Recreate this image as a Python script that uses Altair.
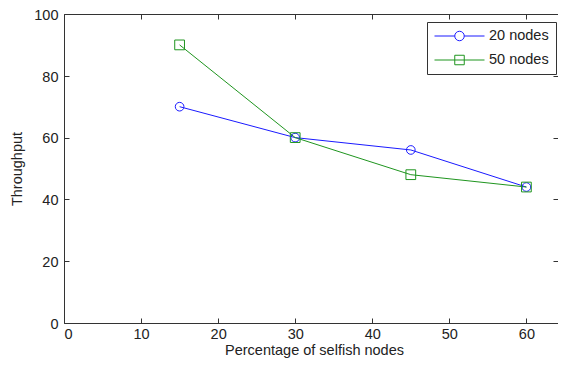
import altair as alt
import pandas as pd

x_vals = [15, 30, 45, 60]
series_names = ["20 nodes", "50 nodes"]
nodes20 = [70, 60, 56, 44]
nodes50 = [90, 60, 48, 44]
x_ticks = [0, 10, 20, 30, 40, 50, 60]
y_ticks = [0, 20, 40, 60, 80, 100]

rows = []
for name, vals in zip(series_names, [nodes20, nodes50]):
    for xv, yv in zip(x_vals, vals):
        rows.append({"x": xv, "y": yv, "series": name})
df = pd.DataFrame(rows)

BLUE = "#1a1aff"
GREEN = "#1f951f"
FONT = "Liberation Sans"
TXT = "#222222"
FS = 14.5

color_scale = alt.Scale(domain=series_names, range=[BLUE, GREEN])
circle_path = "M-1,0H-0.19M0.19,0H1M0.19,0A0.19,0.19 0 1 1 -0.19,0A0.19,0.19 0 1 1 0.19,0Z"
square_path = "M-1,0H1M-0.19,-0.19H0.19V0.19H-0.19Z"
shape_scale = alt.Scale(domain=series_names, range=[circle_path, square_path])

xs = alt.Scale(domain=[0, 64.1], nice=False, zero=False)
ys = alt.Scale(domain=[0, 100], nice=False)

ax_common = dict(
    grid=False, domain=False, tickSize=5, offset=-5, tickColor="#333333",
    tickWidth=1, labelFont=FONT, labelFontSize=FS, labelColor=TXT,
    titleFont=FONT, titleFontSize=FS, titleColor=TXT, titleFontWeight="normal",
)

x_bottom = alt.X("x:Q", scale=xs, axis=alt.Axis(orient="bottom", values=x_ticks,
                 title="Percentage of selfish nodes", labelPadding=4, titlePadding=3,
                 titleX=250, **ax_common))
y_left = alt.Y("y:Q", scale=ys, axis=alt.Axis(orient="left", values=y_ticks,
               title="Throughput", labelPadding=6, titlePadding=9, labelOffset=1.2,
               **ax_common))

x_none = alt.X("x:Q", scale=xs, axis=None)
y_none = alt.Y("y:Q", scale=ys, axis=None)

lines = alt.Chart(df).mark_line(strokeWidth=1).encode(
    x=x_bottom, y=y_left,
    color=alt.Color("series:N", scale=color_scale, legend=None),
    detail="series:N",
)

pts20 = alt.Chart(df).transform_filter(alt.datum.series == series_names[0]).mark_point(
    filled=False, size=75, strokeWidth=1, opacity=1
).encode(
    x=x_none, y=y_none,
    color=alt.Color("series:N", scale=color_scale, legend=None),
    shape=alt.value("circle"),
)
pts50 = alt.Chart(df).transform_filter(alt.datum.series == series_names[1]).mark_point(
    filled=False, size=95, strokeWidth=1, opacity=1
).encode(
    x=x_none, y=y_none,
    color=alt.Color("series:N", scale=color_scale, legend=None),
    shape=alt.value("square"),
)

leg = dict(title=None, orient="none", legendX=363, legendY=8,
           symbolSize=2500, symbolStrokeWidth=1,
           labelFont=FONT, labelFontSize=FS, labelColor=TXT,
           labelOffset=4, rowPadding=9, clipHeight=14,
           strokeColor="#333333", fillColor="white",
           padding=7, symbolOpacity=1)

legend_layer = alt.Chart(df).mark_point(filled=False, size=0, strokeWidth=1).encode(
    x=x_none, y=y_none,
    color=alt.Color("series:N", scale=color_scale, legend=alt.Legend(**leg)),
    shape=alt.Shape("series:N", scale=shape_scale, legend=alt.Legend(**leg)),
)

frame_axes = alt.Chart(df).mark_point(opacity=0, size=0).encode(
    x=alt.X("x:Q", scale=xs, axis=alt.Axis(orient="top", values=x_ticks, labels=False,
            title=None, grid=False, domain=False, tickSize=5, offset=-5,
            tickColor="#333333")),
    y=alt.Y("y:Q", scale=ys, axis=alt.Axis(orient="right", values=y_ticks, labels=False,
            title=None, grid=False, domain=False, tickSize=5, offset=-5,
            tickColor="#333333")),
)

chart = alt.layer(lines, pts20, pts50, legend_layer, frame_axes).resolve_axis(
    x="independent", y="independent"
).resolve_legend(
    color="independent", shape="independent"
).properties(
    width=494, height=309,
    background="white",
    autosize=alt.AutoSizeParams(type="none"),
    padding={"left": 56, "top": 6, "right": 0, "bottom": 36},
).configure_view(stroke="#333333", strokeWidth=1)

chart.save("out.html", embed_options={"renderer": "svg", "actions": False})
